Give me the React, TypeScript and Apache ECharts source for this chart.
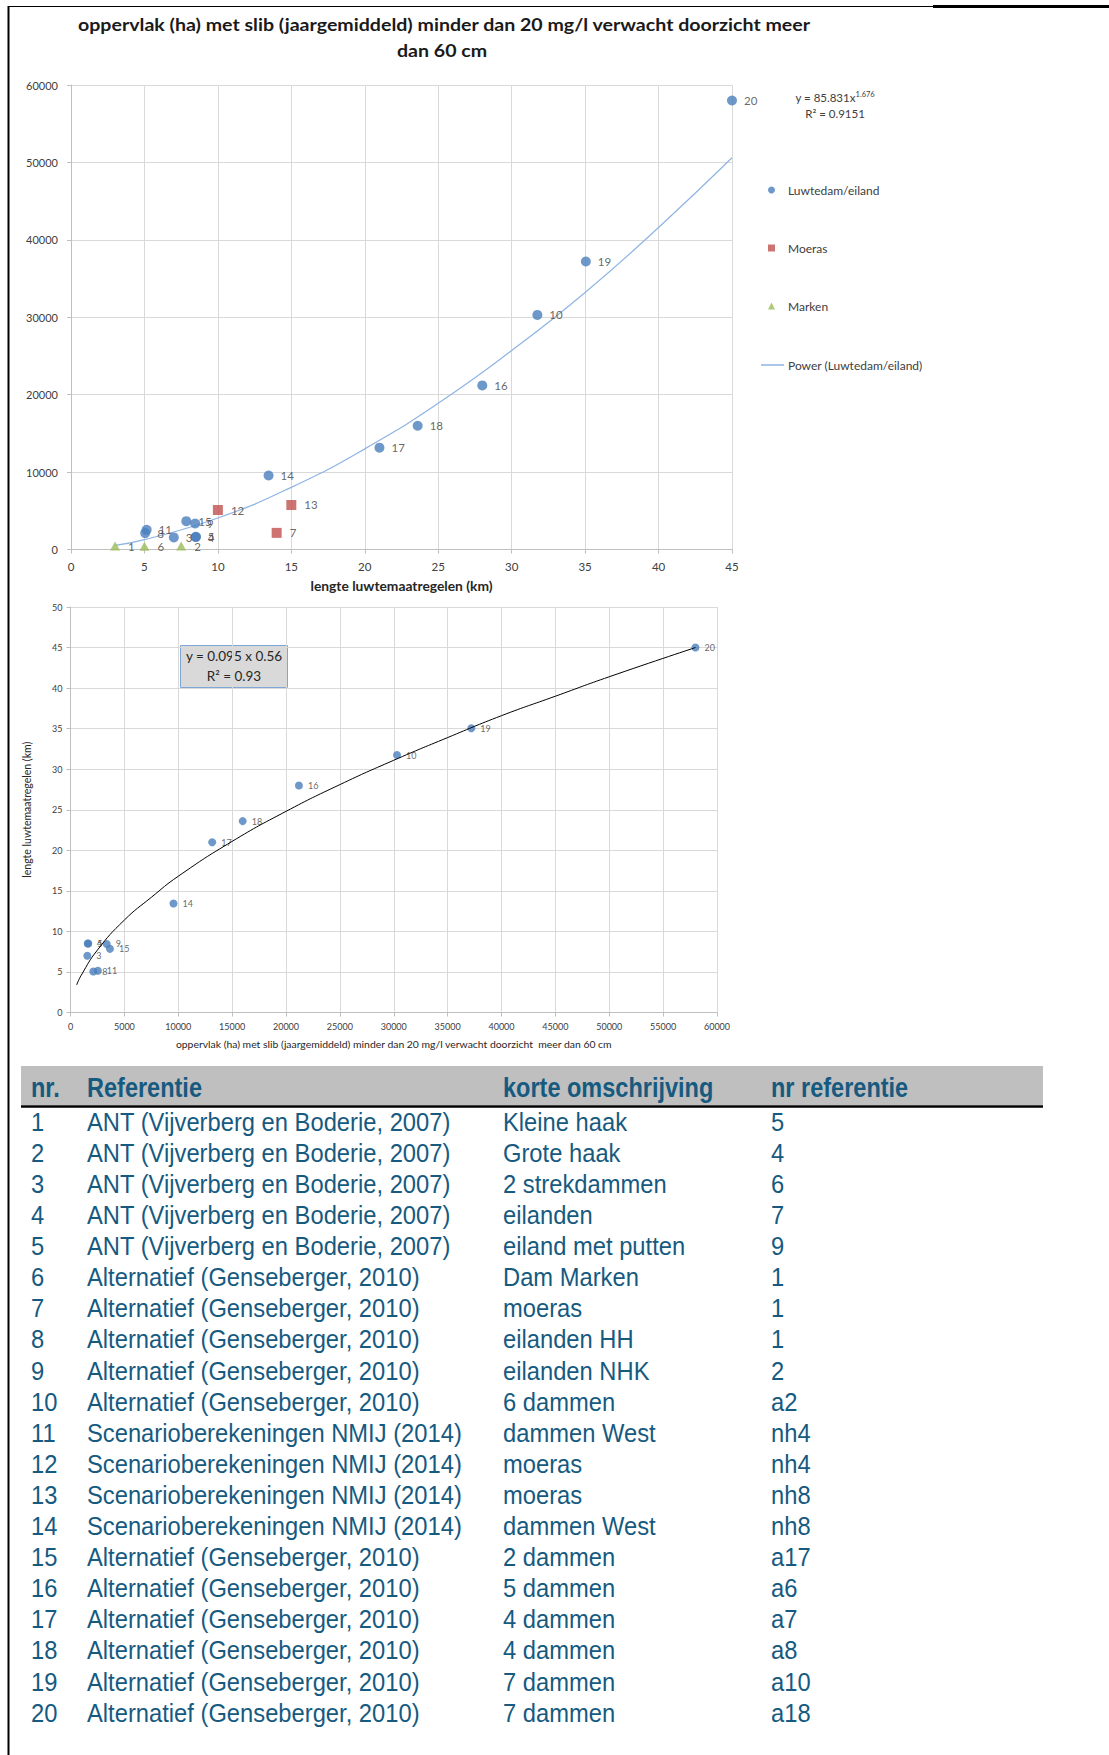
import React, { useEffect, useRef } from "react";
import * as echarts from "echarts";

// ---- Data: Luwtedam/eiland (blue circles) ----
const luwteLabels = ["3", "4", "5", "8", "9", "10", "11", "14", "15", "16", "17", "18", "19", "20"];
const luwteKm = [7.0, 8.5, 8.5, 5.05, 8.45, 31.75, 5.15, 13.45, 7.85, 28.0, 21.0, 23.6, 35.05, 45.0];
const luwteHa = [1560, 1600, 1650, 2120, 3360, 30300, 2540, 9560, 3660, 21200, 13150, 15980, 37200, 58000];

// ---- Moeras (red squares) ----
const moerasLabels = ["12", "13", "7"];
const moerasKm = [10, 15, 14];
const moerasHa = [5100, 5750, 2150];

// ---- Marken (green triangles) ----
const markenLabels = ["1", "6", "2"];
const markenKm = [3, 5, 7.5];
const markenHa = [450, 420, 450];

// ---- Trend line (Power (Luwtedam/eiland)) ----
const trendTopKm = [3, 5, 10, 15, 20, 25, 30, 35, 40, 45];
const trendTopHa = [540, 1270, 4070, 8030, 13000, 18900, 25700, 33200, 41600, 50600];

// ---- Trend line ----
const trendBotHa = [575, 1000, 2500, 5000, 7500, 10000, 15000, 20000, 25000, 30000, 35000, 40000, 45000, 50000, 58000];
const trendBotKm = [3.4, 4.6, 7.7, 11.4, 14.2, 16.8, 21.1, 24.8, 28.1, 31.1, 33.9, 36.6, 39.0, 41.4, 45.0];

// ---- Table ----
const tableHeaders = ["nr.", "Referentie", "korte omschrijving", "nr referentie"];
const tableNr = ["1", "2", "3", "4", "5", "6", "7", "8", "9", "10", "11", "12", "13", "14", "15", "16", "17", "18", "19", "20"];
const tableRef = [
  "ANT (Vijverberg en Boderie, 2007)",
  "ANT (Vijverberg en Boderie, 2007)",
  "ANT (Vijverberg en Boderie, 2007)",
  "ANT (Vijverberg en Boderie, 2007)",
  "ANT (Vijverberg en Boderie, 2007)",
  "Alternatief (Genseberger, 2010)",
  "Alternatief (Genseberger, 2010)",
  "Alternatief (Genseberger, 2010)",
  "Alternatief (Genseberger, 2010)",
  "Alternatief (Genseberger, 2010)",
  "Scenarioberekeningen NMIJ (2014)",
  "Scenarioberekeningen NMIJ (2014)",
  "Scenarioberekeningen NMIJ (2014)",
  "Scenarioberekeningen NMIJ (2014)",
  "Alternatief (Genseberger, 2010)",
  "Alternatief (Genseberger, 2010)",
  "Alternatief (Genseberger, 2010)",
  "Alternatief (Genseberger, 2010)",
  "Alternatief (Genseberger, 2010)",
  "Alternatief (Genseberger, 2010)",
];
const tableDesc = [
  "Kleine haak", "Grote haak", "2 strekdammen", "eilanden", "eiland met putten",
  "Dam Marken", "moeras", "eilanden HH", "eilanden NHK", "6 dammen",
  "dammen West", "moeras", "moeras", "dammen West", "2 dammen",
  "5 dammen", "4 dammen", "4 dammen", "7 dammen", "7 dammen",
];
const tableNrRef = ["5", "4", "6", "7", "9", "1", "1", "1", "2", "a2", "nh4", "nh4", "nh8", "nh8", "a17", "a6", "a7", "a8", "a10", "a18"];

const BLUE = "#4a7ebb";
const RED = "#c0504d";
const GREEN = "#9bbb59";
const TREND = "#8eb4e3";
const TABLE_COLOR = "#165a80";

export default function App() {
  const ref = useRef<HTMLDivElement>(null);

  useEffect(() => {
    if (!ref.current) return;
    const chart = echarts.init(ref.current, undefined, { renderer: "svg" });

    const axisCommon = (fs: number, margin: number) => ({
      type: "value",
      axisLine: { show: true, onZero: false, lineStyle: { color: "#bfbfbf" } },
      axisTick: { show: true, length: 4, lineStyle: { color: "#bfbfbf" } },
      axisLabel: {
        fontSize: fs,
        color: "#404040",
        margin,
        fontFamily: "Lato",
        formatter: (v: number) => String(v),
      },
      splitLine: { show: true, lineStyle: { color: "#d9d9d9" } },
    });

    const colX = [31, 87, 503, 771];
    const rowY0 = 1122;
    const rowStep = 31.1;
    const tableChildren: any[] = [];
    tableChildren.push({
      type: "rect",
      shape: { x: 21, y: 1066, width: 1022, height: 39 },
      style: { fill: "#bfbfbf" },
    });
    tableChildren.push({
      type: "line",
      shape: { x1: 21, y1: 1106.5, x2: 1043, y2: 1106.5 },
      style: { stroke: "#000", lineWidth: 2.5 },
    });
    tableHeaders.forEach((h, i) => {
      tableChildren.push({
        type: "text",
        x: colX[i],
        y: 1087,
        scaleX: 0.84,
        style: {
          text: h,
          x: 0,
          y: 0,
          fontFamily: "Liberation Sans",
          fontWeight: "bold",
          fontSize: 28,
          fill: TABLE_COLOR,
          verticalAlign: "middle",
        },
      });
    });
    const cols = [tableNr, tableRef, tableDesc, tableNrRef];
    for (let r = 0; r < tableNr.length; r++) {
      cols.forEach((col, c) => {
        tableChildren.push({
          type: "text",
          x: colX[c],
          y: rowY0 + r * rowStep,
          scaleX: 0.95,
          style: {
            text: col[r],
            x: 0,
            y: 0,
            fontFamily: "Liberation Sans",
            fontSize: 25,
            fill: TABLE_COLOR,
            verticalAlign: "middle",
          },
        });
      });
    }

    const legendText = {
      fontSize: 12,
      color: "#404040",
      padding: [0, 0, 0, 8],
      lineHeight: 12,
      fontFamily: "Lato",
    };

    const option: any = {
      animation: false,
      textStyle: { fontFamily: "Lato" },
      grid: [
        { left: 71, top: 85, width: 661, height: 464.5 },
        { left: 70.5, top: 607, width: 646.5, height: 405.5 },
      ],
      xAxis: [
        {
          ...axisCommon(11.5, 11),
          gridIndex: 0,
          min: 0,
          max: 45,
          interval: 5,
          name: "lengte luwtemaatregelen (km)",
          nameLocation: "middle",
          nameGap: 29,
          nameTextStyle: { fontWeight: "bold", fontSize: 13.8, color: "#262626", fontFamily: "Lato" },
        },
        {
          ...axisCommon(9, 9),
          gridIndex: 1,
          min: 0,
          max: 60000,
          interval: 5000,
          name: "oppervlak (ha) met slib (jaargemiddeld) minder dan 20 mg/l verwacht doorzicht  meer dan 60 cm",
          nameLocation: "middle",
          nameGap: 26,
          nameTextStyle: { fontSize: 10.4, color: "#262626", fontFamily: "Lato" },
        },
      ],
      yAxis: [
        {
          ...axisCommon(11, 13),
          gridIndex: 0,
          min: 0,
          max: 60000,
          interval: 10000,
        },
        {
          ...axisCommon(9, 8),
          gridIndex: 1,
          min: 0,
          max: 50,
          interval: 5,
          name: "lengte luwtemaatregelen (km)",
          nameLocation: "middle",
          nameRotate: 90,
          nameGap: 38,
          nameTextStyle: { fontSize: 10.5, color: "#262626", fontFamily: "Lato" },
        },
      ],
      legend: [
        {
          data: [{ name: "Luwtedam/eiland", icon: "circle" }],
          left: 768, top: 184, padding: 0, itemWidth: 7, itemHeight: 7, selectedMode: false,
          textStyle: legendText,
        },
        {
          data: [{ name: "Moeras", icon: "rect" }],
          left: 768, top: 242, padding: 0, itemWidth: 7, itemHeight: 7, selectedMode: false,
          textStyle: legendText,
        },
        {
          data: [{ name: "Marken", icon: "triangle" }],
          left: 768, top: 300, padding: 0, itemWidth: 7, itemHeight: 7, selectedMode: false,
          textStyle: legendText,
        },
        {
          data: [{ name: "Power (Luwtedam/eiland)", icon: "rect" }],
          left: 761, top: 359, padding: 0, itemWidth: 23, itemHeight: 1.5, selectedMode: false,
          itemStyle: { color: TREND },
          textStyle: { ...legendText, padding: [0, 0, 0, -1] },
        },
      ],
      series: [
        {
          name: "Power (Luwtedam/eiland)",
          type: "line",
          xAxisIndex: 0,
          yAxisIndex: 0,
          data: trendTopKm.map((k, i) => [k, trendTopHa[i]]),
          smooth: true,
          symbol: "none",
          lineStyle: { color: TREND, width: 1.2 },
          itemStyle: { color: TREND },
          z: 1,
        },
        {
          name: "Luwtedam/eiland",
          type: "scatter",
          xAxisIndex: 0,
          yAxisIndex: 0,
          symbol: "circle",
          symbolSize: 10,
          clip: false,
          itemStyle: { color: BLUE },
          data: luwteKm.map((k, i) => ({ value: [k, luwteHa[i]], name: luwteLabels[i] })),
          label: { show: true, position: "right", distance: 7, formatter: "{b}", fontSize: 11.5, color: "#404040", fontFamily: "Lato" },
          z: 3,
        },
        {
          name: "Moeras",
          type: "scatter",
          xAxisIndex: 0,
          yAxisIndex: 0,
          symbol: "rect",
          symbolSize: 10,
          itemStyle: { color: RED },
          data: moerasKm.map((k, i) => ({ value: [k, moerasHa[i]], name: moerasLabels[i] })),
          label: { show: true, position: "right", distance: 8, formatter: "{b}", fontSize: 11.5, color: "#404040", fontFamily: "Lato" },
          z: 3,
        },
        {
          name: "Marken",
          type: "scatter",
          xAxisIndex: 0,
          yAxisIndex: 0,
          symbol: "triangle",
          symbolSize: [10, 9],
          itemStyle: { color: GREEN },
          data: markenKm.map((k, i) => ({ value: [k, markenHa[i]], name: markenLabels[i] })),
          label: { show: true, position: "right", distance: 8, formatter: "{b}", fontSize: 11.5, color: "#404040", fontFamily: "Lato" },
          z: 3,
        },
        {
          name: "trend2",
          type: "line",
          xAxisIndex: 1,
          yAxisIndex: 1,
          data: trendBotHa.map((h, i) => [h, trendBotKm[i]]),
          smooth: true,
          symbol: "none",
          lineStyle: { color: "#000000", width: 1 },
          z: 4,
        },
        {
          name: "luwte2",
          type: "scatter",
          xAxisIndex: 1,
          yAxisIndex: 1,
          symbol: "circle",
          symbolSize: 8,
          clip: false,
          itemStyle: { color: BLUE },
          data: luwteHa.map((h, i) => ({ value: [h, luwteKm[i]], name: luwteLabels[i] })),
          label: { show: true, position: "right", distance: 5, formatter: "{b}", fontSize: 9, color: "#404040", fontFamily: "Lato" },
          z: 3,
        },
      ],
      graphic: [
        // frame
        { type: "line", shape: { x1: 8.5, y1: 6, x2: 8.5, y2: 1755 }, style: { stroke: "#000", lineWidth: 2 } },
        { type: "line", shape: { x1: 8, y1: 6.5, x2: 933, y2: 6.5 }, style: { stroke: "#000", lineWidth: 1 } },
        { type: "line", shape: { x1: 933, y1: 6.5, x2: 1109, y2: 6.5 }, style: { stroke: "#000", lineWidth: 3 } },
        // title
        {
          type: "text",
          x: 444,
          y: 24,
          scaleX: 1.12,
          style: {
            text: "oppervlak (ha) met slib (jaargemiddeld) minder dan 20 mg/l verwacht doorzicht meer",
            x: 0, y: 0,
            fontFamily: "Lato", fontWeight: "bold", fontSize: 17.5, fill: "#1a1a1a",
            align: "center", verticalAlign: "middle",
          },
        },
        {
          type: "text",
          x: 442,
          y: 50,
          scaleX: 1.12,
          style: {
            text: "dan 60 cm",
            x: 0, y: 0,
            fontFamily: "Lato", fontWeight: "bold", fontSize: 17.5, fill: "#1a1a1a",
            align: "center", verticalAlign: "middle",
          },
        },
        // equation top
        {
          type: "text",
          x: 835,
          y: 97,
          style: {
            text: "y = 85.831x{sup|1.676}",
            rich: { sup: { fontSize: 7.5, verticalAlign: "top", padding: [0, 0, 6, 0], fontFamily: "Lato", fill: "#404040" } },
            fontFamily: "Lato", fontSize: 11.5, fill: "#404040",
            align: "center", verticalAlign: "middle",
          },
        },
        {
          type: "text",
          x: 835,
          y: 113,
          style: {
            text: "R² = 0.9151",
            fontFamily: "Lato", fontSize: 11.5, fill: "#404040",
            align: "center", verticalAlign: "middle",
          },
        },
        // equation box bottom
        {
          type: "rect",
          shape: { x: 180.5, y: 645.5, width: 107, height: 42 },
          style: { fill: "#d9d9d9", stroke: "#7ea6d6", lineWidth: 1 },
        },
        {
          type: "text",
          x: 234,
          y: 656,
          style: {
            text: "y = 0.095 x 0.56",
            fontFamily: "Lato", fontSize: 13.5, fill: "#262626",
            align: "center", verticalAlign: "middle",
          },
        },
        {
          type: "text",
          x: 234,
          y: 676,
          style: {
            text: "R² = 0.93",
            fontFamily: "Lato", fontSize: 13.5, fill: "#262626",
            align: "center", verticalAlign: "middle",
          },
        },
        { type: "group", children: tableChildren },
      ],
    };

    chart.setOption(option);
    return () => chart.dispose();
  }, []);

  return (
    <div
      ref={ref}
      style={{ position: "absolute", left: 0, top: 0, width: 1109, height: 1755, background: "#ffffff" }}
    />
  );
}
